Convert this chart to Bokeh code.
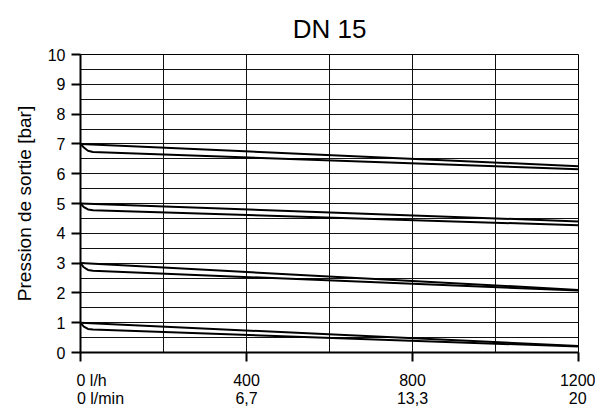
from bokeh.plotting import figure
from bokeh.models import FixedTicker, Range1d
from bokeh.embed import file_html
from bokeh.resources import INLINE

# Data (flow in l/h, outlet pressure in bar)
flow_upper = [0, 1200]
p7_upper = [7.0, 6.25]
p5_upper = [5.0, 4.40]
p3_upper = [3.0, 2.10]
p1_upper = [1.0, 0.22]

flow_lower = [0, 8, 18, 30, 1200]
p7_lower = [7.0, 6.88, 6.77, 6.73, 6.15]
p5_lower = [5.0, 4.88, 4.80, 4.77, 4.27]
p3_lower = [3.0, 2.86, 2.77, 2.74, 2.08]
p1_lower = [1.0, 0.87, 0.79, 0.77, 0.20]

x_ticks = [0, 400, 800, 1200]
x_labels_h = ["0 l/h", "400", "800", "1200"]
x_labels_min = ["0 l/min", "6,7", "13,3", "20"]
y_ticks = list(range(0, 11))

FONT = "Liberation Sans"

p = figure(width=595, height=410, output_backend="svg", toolbar_location=None,
           x_range=Range1d(0, 1200), y_range=Range1d(0, 10),
           min_border_left=80, min_border_right=17, min_border_top=53, min_border_bottom=58)

p.title.text = "DN 15"
p.title.align = "center"
p.title.text_font = FONT
p.title.text_font_size = "26px"
p.title.text_font_style = "normal"
p.title.text_color = "black"
p.title.offset = 0
p.title.standoff = 22

for xs, ys in [(flow_upper, p7_upper), (flow_upper, p5_upper), (flow_upper, p3_upper), (flow_upper, p1_upper),
               (flow_lower, p7_lower), (flow_lower, p5_lower), (flow_lower, p3_lower), (flow_lower, p1_lower)]:
    p.line(xs, ys, line_color="black", line_width=2)

# grids
p.xgrid.ticker = FixedTicker(ticks=[0, 200, 400, 600, 800, 1000, 1200])
p.ygrid.ticker = FixedTicker(ticks=[i * 0.5 for i in range(21)])
for g in (p.xgrid, p.ygrid):
    g.grid_line_color = "#111111"
    g.grid_line_width = 1
    g.grid_line_alpha = 1
p.outline_line_color = "black"
p.outline_line_width = 1

# axes
p.xaxis.ticker = FixedTicker(ticks=x_ticks)
p.yaxis.ticker = FixedTicker(ticks=y_ticks)
for ax in (p.xaxis, p.yaxis):
    ax.axis_line_color = "black"
    ax.axis_line_width = 2
    ax.major_tick_line_color = "black"
    ax.major_tick_line_width = 2
    ax.major_tick_in = 0
    ax.major_tick_out = 9
    ax.minor_tick_line_color = None
    ax.major_label_text_font = FONT
    ax.major_label_text_font_size = "16px"
    ax.major_label_text_color = "black"

pad = "\u00a0" * 9
overrides = {}
for i, (xv, t1, t2) in enumerate(zip(x_ticks, x_labels_h, x_labels_min)):
    if i == 0:
        overrides[xv] = pad + t1 + "\u00a0\u00a0\u00a0\u00a0\n" + pad + t2
    else:
        overrides[xv] = t1 + "\n" + t2
p.xaxis.major_label_overrides = overrides
p.xaxis.major_label_standoff = 10
p.xaxis.major_label_text_font_size = "16px"
p.xaxis.major_label_text_line_height = 1.1

p.yaxis.axis_label = "Pression de sortie [bar]"
p.yaxis.axis_label_text_font = FONT
p.yaxis.axis_label_text_font_size = "19px"
p.yaxis.axis_label_text_font_style = "normal"
p.yaxis.axis_label_text_color = "black"
p.yaxis.axis_label_standoff = 10
p.yaxis.major_label_standoff = 6

open("out.html", "w").write(file_html(p, INLINE))
